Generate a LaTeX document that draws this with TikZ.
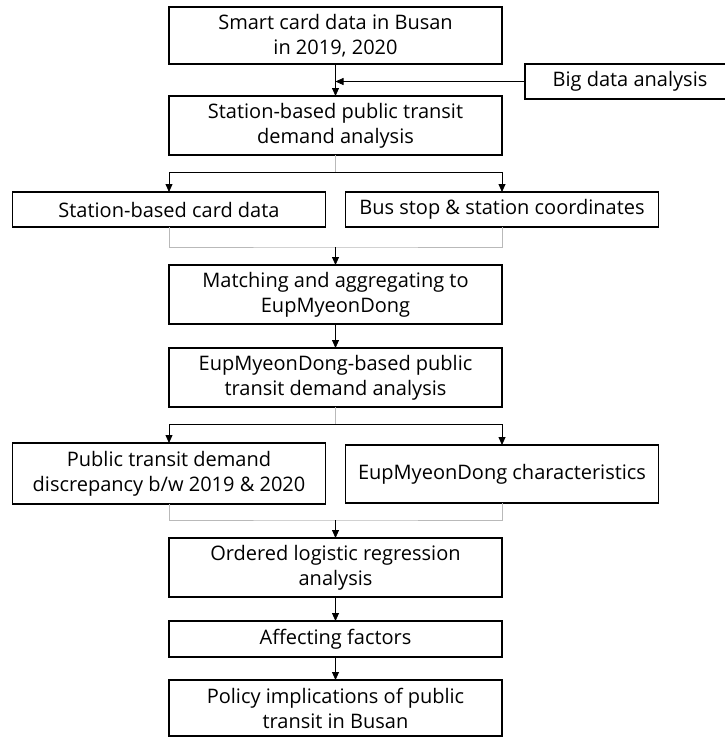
\documentclass[tikz,border=0pt]{standalone}
\usepackage{fontspec}
\setmainfont{Open Sans}
\usetikzlibrary{arrows.meta, positioning}

\begin{document}
\begin{tikzpicture}[
    box/.style={draw, line width=1.6pt, outer sep=0pt, minimum width=333pt, minimum height=59pt, align=center, inner sep=1pt, font=\fontsize{20}{25}\selectfont},
    sidebox/.style={box, minimum width=313pt},
    arrow/.style={-{Triangle[length=8pt, width=7pt]}, line width=0.8pt},
    feed/.style={draw=gray!55, line width=0.8pt}
]
    \useasboundingbox (0pt,0pt) rectangle (725pt,-739pt);

    \node[box, minimum height=57pt] (smart) at (335.5pt,-35.5pt) {Smart card data in Busan\\ in 2019, 2020};
    \node[box, below=32pt of smart] (station) {Station-based public transit\\ demand analysis};
    \node[box, minimum width=210pt, minimum height=35pt, anchor=north west] (bigdata) at ([xshift=23pt]smart.south east) {Big data analysis};

    \node[sidebox, minimum height=35pt, below=37pt of station.south west] (card) {Station-based card data};
    \node[sidebox, minimum height=35pt, below=37pt of station.south east] (coord) {Bus stop \& station coordinates};

    \node[box, below=110pt of station] (match) {Matching and aggregating to\\ EupMyeonDong};
    \node[box, below=24pt of match] (emd) {EupMyeonDong-based public\\ transit demand analysis};

    \node[sidebox, minimum height=61pt, below=36pt of emd.south west] (disc) {Public transit demand\\ discrepancy b/w 2019 \& 2020};
    \node[sidebox, minimum height=58pt, below=38pt of emd.south east] (chars) {EupMyeonDong characteristics};

    \node[box, below=131pt of emd] (ordered) {Ordered logistic regression\\ analysis};
    \node[box, minimum height=36pt, below=24pt of ordered] (affect) {Affecting factors};
    \node[box, minimum height=56pt, below=23pt of affect] (policy) {Policy implications of public\\ transit in Busan};

    % top part
    \draw[arrow] (smart) -- (station);
    \draw[arrow] (bigdata.west) -- (smart.south |- bigdata.west);

    % split and merge around the station data
    \coordinate (split1) at ([yshift=-17pt]station.south);
    \draw[feed] (station.south) -- (split1);
    \draw[arrow] (split1) -| (card);
    \draw[arrow] (split1) -| (coord);
    \coordinate (merge1) at ([yshift=-20pt]card.south -| station.south);
    \draw[feed] (card.south) |- (merge1) -| (coord.south);
    \draw[arrow] (merge1) -- (match);

    \draw[arrow] (match) -- (emd);

    % split and merge around the EupMyeonDong data
    \coordinate (split2) at ([yshift=-17pt]emd.south);
    \draw[feed] (emd.south) -- (split2);
    \draw[arrow] (split2) -| (disc);
    \draw[arrow] (split2) -| (chars);
    \coordinate (merge2) at ([yshift=-16pt]disc.south -| emd.south);
    \draw[feed] (disc.south) |- (merge2) -| (chars.south);
    \draw[arrow] (merge2) -- (ordered);

    \draw[arrow] (ordered) -- (affect);
    \draw[arrow] (affect) -- (policy);
\end{tikzpicture}
\end{document}
